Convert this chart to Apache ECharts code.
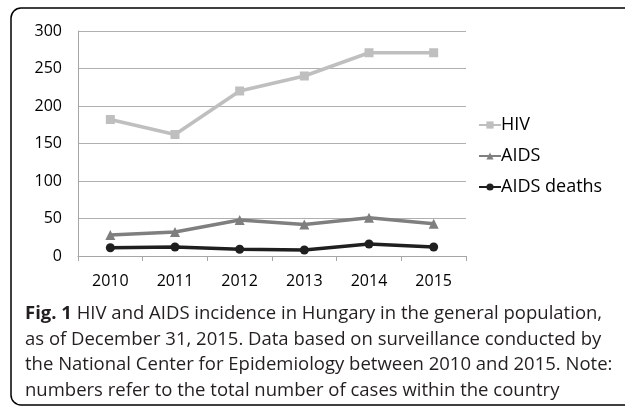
<!DOCTYPE html>
<html>
<head>
<meta charset="utf-8">
<script src="https://cdn.jsdelivr.net/npm/echarts@6/dist/echarts.min.js"></script>
<style>html,body{margin:0;padding:0;background:#fff;overflow:hidden;}#c{width:625px;height:409px;}</style>
</head>
<body>
<div id="c"></div>
<script>
const years = ['2010', '2011', '2012', '2013', '2014', '2015'];
const hiv = [182, 162, 220, 240, 271, 271];
const aids = [28, 32, 48, 42, 51, 43];
const aidsDeaths = [11, 12, 9, 8, 16, 12];
const yTicks = [0, 50, 100, 150, 200, 250, 300];
const seriesNames = ['HIV', 'AIDS', 'AIDS deaths'];
const captionBold = 'Fig. 1';
const captionLines = [
  ' HIV and AIDS incidence in Hungary in the general population,',
  'as of December 31, 2015. Data based on surveillance conducted by',
  'the National Center for Epidemiology between 2010 and 2015. Note:',
  'numbers refer to the total number of cases within the country'
];

const chart = echarts.init(document.getElementById('c'), null, {renderer: 'canvas'});
const font = 'Open Sans';
function mkSeries(name, data, color, symbol, size) {
  return {
    name: name, type: 'line', data: data,
    symbol: symbol, symbolSize: size, showSymbol: true,
    lineStyle: {color: color, width: 3.5},
    itemStyle: {color: color},
    emphasis: {disabled: true}, animation: false
  };
}
chart.setOption({
  animation: false,
  textStyle: {fontFamily: font},
  grid: {left: 78, top: 31, width: 388, height: 225, containLabel: false},
  title: {
    left: 20, top: 296,
    text: '{b|' + captionBold + '}' + captionLines[0] + '\n' + captionLines.slice(1).join('\n'),
    textStyle: {
      fontFamily: font, fontSize: 18.5, fontWeight: 'normal', color: '#231f20', lineHeight: 25.5,
      rich: {b: {fontFamily: font, fontSize: 18.5, fontWeight: 'bold', color: '#231f20', lineHeight: 25.5}}
    }
  },
  legend: {
    orient: 'vertical', left: 473, top: 111, itemGap: 13,
    itemWidth: 22, itemHeight: 9,
    data: seriesNames,
    textStyle: {fontFamily: font, fontSize: 18, color: '#000', padding: [0, 0, 0, -5]}
  },
  xAxis: {
    type: 'category', data: years, boundaryGap: true,
    axisLine: {lineStyle: {color: '#a6a6a6', width: 1}},
    axisTick: {show: true, length: 5, lineStyle: {color: '#a6a6a6'}},
    axisLabel: {fontFamily: font, fontSize: 16, color: '#000', margin: 17}
  },
  yAxis: {
    type: 'value', min: yTicks[0], max: yTicks[yTicks.length - 1], interval: 50,
    axisLine: {show: true, lineStyle: {color: '#a6a6a6', width: 1}},
    axisTick: {show: false},
    splitLine: {lineStyle: {color: '#b0b0b0', width: 1}},
    axisLabel: {fontFamily: font, fontSize: 16, color: '#000', margin: 16}
  },
  graphic: [{
    type: 'rect', silent: true,
    shape: {x: 11, y: 8, width: 800, height: 397, r: 10},
    style: {fill: null, stroke: '#000', lineWidth: 1.5}
  }],
  series: [
    mkSeries(seriesNames[0], hiv, '#bfbfbf', 'rect', 9),
    mkSeries(seriesNames[1], aids, '#7f7f7f', 'triangle', 10),
    mkSeries(seriesNames[2], aidsDeaths, '#1f1f1f', 'circle', 9)
  ]
});
</script>
</body>
</html>
